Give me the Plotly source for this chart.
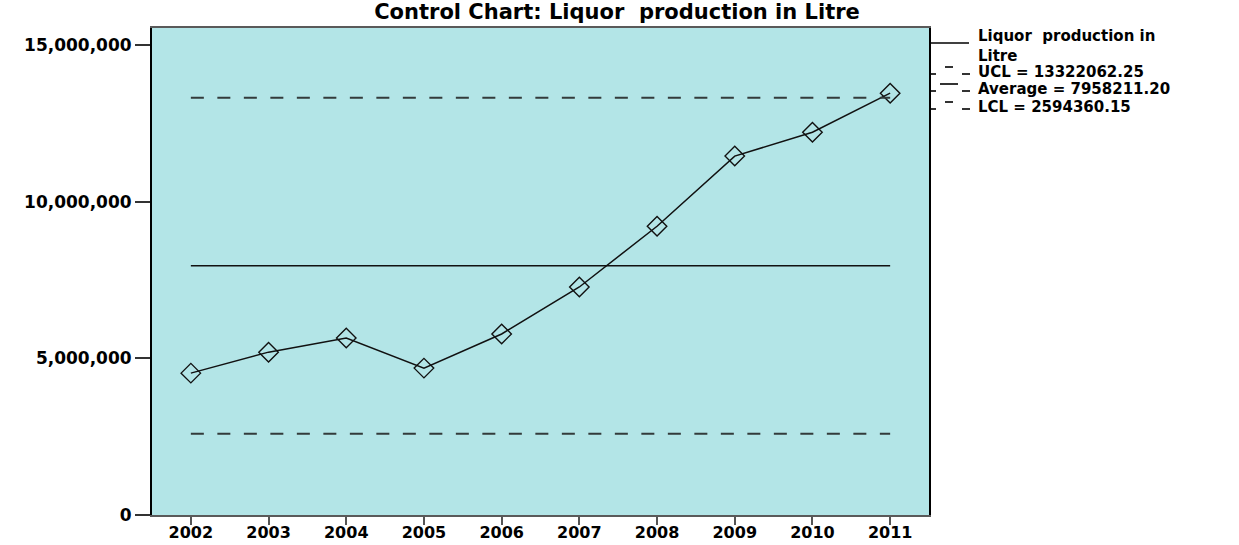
import plotly.graph_objects as go

years = [2002, 2003, 2004, 2005, 2006, 2007, 2008, 2009, 2010, 2011]
production = [4530000, 5200000, 5650000, 4690000, 5780000, 7280000, 9220000, 11460000, 12220000, 13470000]
ucl = 13322062.25
average = 7958211.20
lcl = 2594360.15
y_ticks = [0, 5000000, 10000000, 15000000]

series_name = "Liquor  production in Litre"
title_text = "Control Chart: Liquor  production in Litre"

FONT = "DejaVu Sans, Verdana, sans-serif"
W, H = 1239, 545
PL, PR, PT, PB = 152, 929, 28, 515  # plot area in pixels


def px(sx):
    return (sx - PL) / (PR - PL)


def py(sy):
    return (PB - sy) / (PB - PT)


fig = go.Figure()
fig.add_trace(go.Scatter(
    x=years, y=production, mode="lines+markers", name=series_name,
    line=dict(color="#111111", width=1.5),
    marker=dict(symbol="diamond-open", size=15, color="#111111", line=dict(width=1.4)),
    showlegend=False,
))
fig.add_trace(go.Scatter(
    x=years, y=[ucl] * len(years), mode="lines", name=f"UCL = {ucl:.2f}",
    line=dict(color="#333b3b", width=2, dash="13px,13.5px"), showlegend=False,
))
fig.add_trace(go.Scatter(
    x=years, y=[average] * len(years), mode="lines", name=f"Average = {average:.2f}",
    line=dict(color="#111111", width=1.5), showlegend=False,
))
fig.add_trace(go.Scatter(
    x=years, y=[lcl] * len(years), mode="lines", name=f"LCL = {lcl:.2f}",
    line=dict(color="#333b3b", width=2, dash="13px,13.5px"), showlegend=False,
))

# Custom legend, SPSS style
shapes = []
annotations = []
leg_font = dict(family=FONT, size=15, color="black", weight="bold")
text_x = px(976)

words = series_name.split(" in ")
annotations.append(dict(xref="paper", yref="paper", x=text_x, y=py(46.5), xanchor="left", yanchor="middle",
                        text=words[0] + " in<br>" + words[1], showarrow=False, font=leg_font,
                        align="left"))
shapes.append(dict(type="line", xref="paper", yref="paper", x0=px(930), x1=px(969), y0=py(43), y1=py(43),
                   line=dict(color="black", width=1.5)))

rows = [(f"UCL = {ucl:.2f}", 72, (945, 953)),
        (f"Average = {average:.2f}", 89, (940, 958)),
        (f"LCL = {lcl:.2f}", 107, (945, 953))]
for label, cy, mid in rows:
    annotations.append(dict(xref="paper", yref="paper", x=text_x, y=py(cy), xanchor="left", yanchor="middle",
                            text=label, showarrow=False, font=leg_font))
    for (a, b), yy in [((931, 936), cy + 2), (mid, cy - 5), ((962, 970), cy + 2)]:
        shapes.append(dict(type="line", xref="paper", yref="paper", x0=px(a), x1=px(b), y0=py(yy), y1=py(yy),
                           line=dict(color="black", width=1.6)))

fig.update_layout(
    width=W, height=H,
    margin=dict(l=PL, r=W - PR, t=PT, b=H - PB, autoexpand=False),
    paper_bgcolor="white",
    plot_bgcolor="#b3e5e7",
    font=dict(family=FONT, color="black"),
    title=dict(
        text=title_text,
        xref="container", yref="container",
        x=617 / W, xanchor="center", y=1 - 12 / H, yanchor="middle",
        font=dict(size=21, weight="bold", family=FONT, color="black"),
    ),
    showlegend=False,
    shapes=shapes,
    annotations=annotations,
    xaxis=dict(
        range=[2001.5, 2011.5], automargin=False,
        tickmode="array", tickvals=years, ticktext=[str(y) for y in years],
        ticks="outside", ticklen=8, tickwidth=2, tickcolor="#555555",
        ticklabelstandoff=-6,
        tickfont=dict(size=16, weight="bold", family=FONT, color="black"),
        showgrid=False, zeroline=False,
        showline=True, linecolor="#5a5a5a", linewidth=2, mirror=True,
    ),
    yaxis=dict(
        range=[0, 15550000], automargin=False,
        tickmode="array", tickvals=y_ticks, tickformat=",d",
        ticks="outside", ticklen=15, tickwidth=1.5, tickcolor="#333333",
        tickfont=dict(size=17, weight="bold", family=FONT, color="black"),
        showgrid=False, zeroline=False,
        showline=True, linecolor="black", linewidth=2, mirror=True,
    ),
)

fig.write_html("out.html", config={"displayModeBar": False},
               post_script="document.body.style.margin='0';")
